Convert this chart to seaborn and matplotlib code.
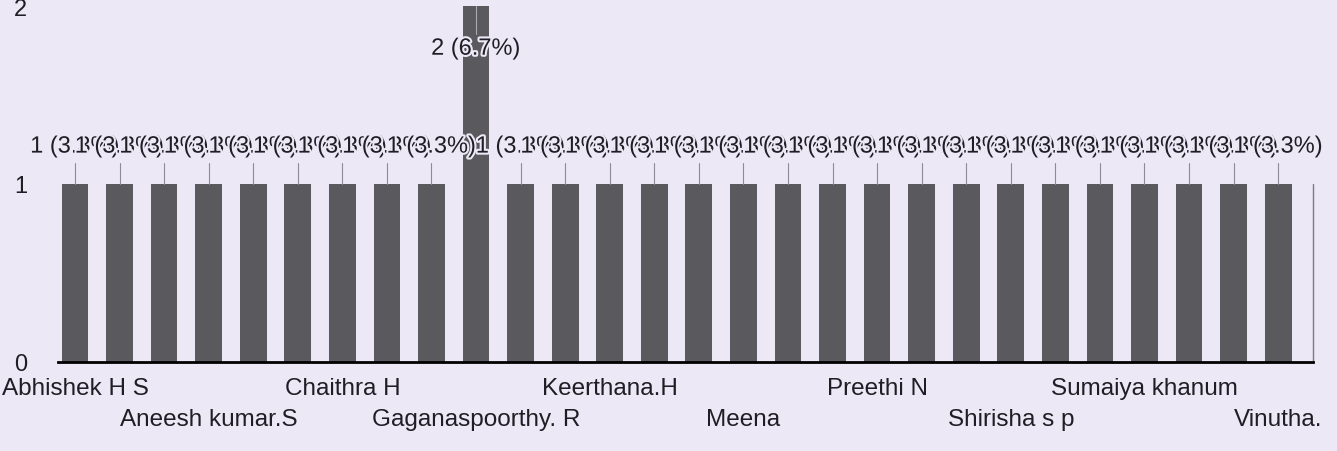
import matplotlib
matplotlib.use("Agg")
import matplotlib.pyplot as plt
import matplotlib.patheffects as pe
import pandas as pd
import seaborn as sns

# nombre de réponses par étudiant (28 barres, une seule à 2)
counts = [1, 1, 1, 1, 1, 1, 1, 1, 1, 2, 1, 1, 1, 1,
          1, 1, 1, 1, 1, 1, 1, 1, 1, 1, 1, 1, 1, 1]
total = 30

# noms visibles sur l'axe (une barre sur trois)
shown_names = ["Abhishek H S", "Aneesh kumar.S", "Chaithra H", "Gaganaspoorthy. R",
               "Keerthana.H", "Meena", "Preethi N", "Shirisha s p",
               "Sumaiya khanum", "Vinutha."]
shown_every = 3

bg = "#ece8f6"
bar_col = "#5a5a5e"
txt = "#1e1e24"

sns.set_style("white")
plt.rcParams["font.family"] = ["Liberation Sans", "DejaVu Sans"]

df = pd.DataFrame({"pos": range(len(counts)), "n": counts})

fig = plt.figure(figsize=(13.37, 4.52), dpi=100, facecolor=bg)
ax = fig.add_axes([0.0434, 0.197, 0.9386, 0.7875])
ax.set_facecolor(bg)

sns.barplot(data=df, x="pos", y="n", color=bar_col, width=0.6,
            saturation=1, linewidth=0, ax=ax)

# étiquettes "n (x%)" avec petits traits de rappel
halo = [pe.withStroke(linewidth=3, foreground=bg)]
for i, n in enumerate(counts):
    pct = n / total * 100
    if n == max(counts):
        y_lab = n - 0.24
        ax.plot([i, i], [y_lab + 0.08, n], color="#a8a8b0", lw=0.8, zorder=4)
    else:
        y_lab = n + 0.21
        ax.plot([i, i], [n, n + 0.12], color="#8c8c94", lw=0.8, zorder=4)
    ax.text(i, y_lab, f"{n} ({pct:.1f}%)", ha="center", va="center",
            fontsize=17, color=txt, path_effects=halo, zorder=5 + i)

ax.set_xlim(-0.38, 27.78)
ax.set_ylim(0, 2)
ax.set_yticks([0, 1, 2])
ax.set_xticks(range(0, len(counts), shown_every))
ax.set_xticklabels(shown_names)
ax.set_xlabel("")
ax.set_ylabel("")
ax.tick_params(axis="x", length=0, pad=11, labelsize=17.5, labelcolor=txt)
ax.tick_params(axis="y", length=0, pad=22, labelsize=17, labelcolor=txt)

# noms en quinconce
for k, t in enumerate(ax.xaxis.get_major_ticks()):
    if k % 2 == 1:
        t.set_pad(33)

sns.despine(ax=ax, left=True, top=True, right=True)
ax.spines["bottom"].set_color("black")
ax.spines["bottom"].set_linewidth(2)
ax.plot([27.78, 27.78], [0, 1], color="#7a7a80", lw=1, clip_on=False)

fig.savefig("out.png", dpi=100, facecolor=bg)
